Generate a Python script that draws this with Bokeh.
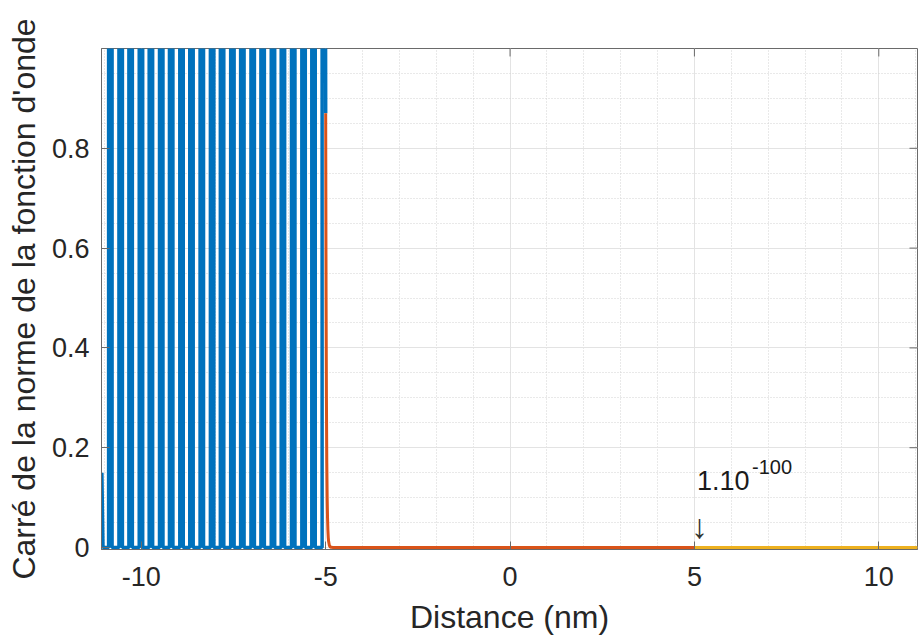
from bokeh.plotting import figure
from bokeh.models import FixedTicker, Range1d, Label
from bokeh.embed import file_html
from bokeh.resources import INLINE

# ---------------- data ----------------
# blue: |psi|^2 in the left region, oscillating between 0 and 1
blue_band_x = [-10.84, -10.56, -10.29, -10.01, -9.74, -9.46, -9.19, -8.91,
               -8.64, -8.36, -8.08, -7.81, -7.53, -7.26, -6.98, -6.71,
               -6.43, -6.16, -5.88, -5.60, -5.33, -5.05]
blue_max = 1.0
blue_min = 0.0
blue_start_x = [-11.07, -11.04]
blue_start_y = [0.15, 0.0]
blue_end_x = [-5.0]
blue_end_y = [0.87]

# red: evanescent decay inside the barrier
red_x = [-5.00, -4.99, -4.98, -4.97, -4.96, -4.95, -4.94, -4.93, -4.92,
         -4.90, -4.88, -4.85, -4.80, -4.50, 0.0, 5.0]
red_y = [0.87, 0.51, 0.30, 0.17, 0.10, 0.06, 0.035, 0.02, 0.012,
         0.004, 0.0014, 0.0003, 0.00002, 0.0, 0.0, 0.0]

# yellow: transmitted part (about 1e-100)
yellow_x = [5.0, 8.0, 11.05]
yellow_y = [0.0, 0.0, 0.0]

x_min, x_max = -11.08, 11.05
y_min, y_max = -0.004, 1.0
x_ticks = [-10, -5, 0, 5, 10]
x_tick_labels = ["-10", "-5", "0", "5", "10"]
x_minor = [-11, -10, -9, -8, -7, -6, -5, -4, -3, -2, -1, 0, 1, 2, 3, 4, 5,
           6, 7, 8, 9, 10, 11]
y_ticks = [0, 0.2, 0.4, 0.6, 0.8]
y_tick_labels = ["0", "0.2", "0.4", "0.6", "0.8"]
y_minor = [0.05, 0.1, 0.15, 0.2, 0.25, 0.3, 0.35, 0.4, 0.45, 0.5, 0.55, 0.6,
           0.65, 0.7, 0.75, 0.8, 0.85, 0.9, 0.95, 1.0]

annot_x = 5.07
annot_y = 0.134
annot_text = "1.10"
annot_exp = "-100"
arrow_x = 5.14
arrow_y = 0.044
arrow_text = "\u2193"

x_label = "Distance (nm)"
y_label = "Carr\u00e9 de la norme de la fonction d'onde"

# ---------------- styles ----------------
FONT = "Liberation Sans"
BLUE = "#0072BD"
RED = "#D95319"
YELLOW = "#EDB120"
AXC = "#6a6a6a"
TXT = "#262626"
half_w = 0.047      # half spacing of the two strokes forming one blue band
tick_len_y = 0.016  # 8 px inward ticks on the top edge
tick_len_x = 0.217  # 8 px inward ticks on the right edge

# blue path built from the band centres
bx = list(blue_start_x)
by = list(blue_start_y)
for c in blue_band_x:
    bx += [c - half_w, c - half_w, c + half_w, c + half_w]
    by += [blue_min, blue_max, blue_max, blue_min]
bx = bx[:-1] + blue_end_x
by = by[:-1] + blue_end_y

p = figure(width=920, height=637, output_backend="svg", toolbar_location=None,
           x_range=Range1d(x_min, x_max), y_range=Range1d(y_min, y_max),
           min_border_left=101, min_border_right=3, min_border_top=48,
           min_border_bottom=86, background_fill_color="white",
           border_fill_color="white")
p.outline_line_color = AXC
p.outline_line_width = 1

p.xaxis.ticker = FixedTicker(ticks=x_ticks, minor_ticks=x_minor)
p.yaxis.ticker = FixedTicker(ticks=y_ticks, minor_ticks=y_minor)
p.xaxis.major_label_overrides = {t: l for t, l in zip(x_ticks, x_tick_labels)}
p.yaxis.major_label_overrides = {t: l for t, l in zip(y_ticks, y_tick_labels)}

for ax in (p.xaxis[0], p.yaxis[0]):
    ax.major_tick_in = 8
    ax.major_tick_out = 0
    ax.minor_tick_in = 0
    ax.minor_tick_out = 0
    ax.axis_line_color = AXC
    ax.major_tick_line_color = AXC
    ax.major_label_text_font = FONT
    ax.major_label_text_font_size = "27px"
    ax.major_label_text_color = TXT
    ax.axis_label_text_font = FONT
    ax.axis_label_text_font_size = "32px"
    ax.axis_label_text_font_style = "normal"
    ax.axis_label_text_color = TXT

p.xaxis.axis_label = x_label
p.yaxis.axis_label = y_label
p.xaxis.major_label_standoff = 17
p.xaxis.axis_label_standoff = 10
p.yaxis.major_label_standoff = 12
p.yaxis.axis_label_standoff = 7

for g in (p.xgrid[0], p.ygrid[0]):
    g.grid_line_color = "#e3e3e3"
    g.grid_line_width = 1
    g.minor_grid_line_color = "#d2d2d2"
    g.minor_grid_line_dash = "1 2"
    g.minor_grid_line_width = 1

# inward ticks on the top and right edges of the box
p.segment(x0=x_ticks, y0=[y_max] * len(x_ticks), x1=x_ticks,
          y1=[y_max - tick_len_y] * len(x_ticks), line_color=AXC, line_width=1)
p.segment(x0=[x_max] * len(y_ticks), y0=y_ticks,
          x1=[x_max - tick_len_x] * len(y_ticks), y1=y_ticks,
          line_color=AXC, line_width=1)

p.line(bx, by, line_color=BLUE, line_width=3.5)
p.line(red_x, red_y, line_color=RED, line_width=3)
p.line(yellow_x, yellow_y, line_color=YELLOW, line_width=3)

p.add_layout(Label(x=annot_x, y=annot_y, text=annot_text, text_font=FONT,
                   text_font_size="27px", text_color="#1a1a1a",
                   text_align="left", text_baseline="alphabetic"))
p.add_layout(Label(x=annot_x, y=annot_y, x_offset=55, y_offset=14,
                   text=annot_exp, text_font=FONT, text_font_size="20px",
                   text_color="#1a1a1a", text_align="left",
                   text_baseline="alphabetic"))
p.add_layout(Label(x=arrow_x, y=arrow_y, text=arrow_text, text_font=FONT,
                   text_font_size="34px", text_color="#333333",
                   text_align="center", text_baseline="alphabetic"))

open("out.html", "w").write(file_html(p, INLINE))
